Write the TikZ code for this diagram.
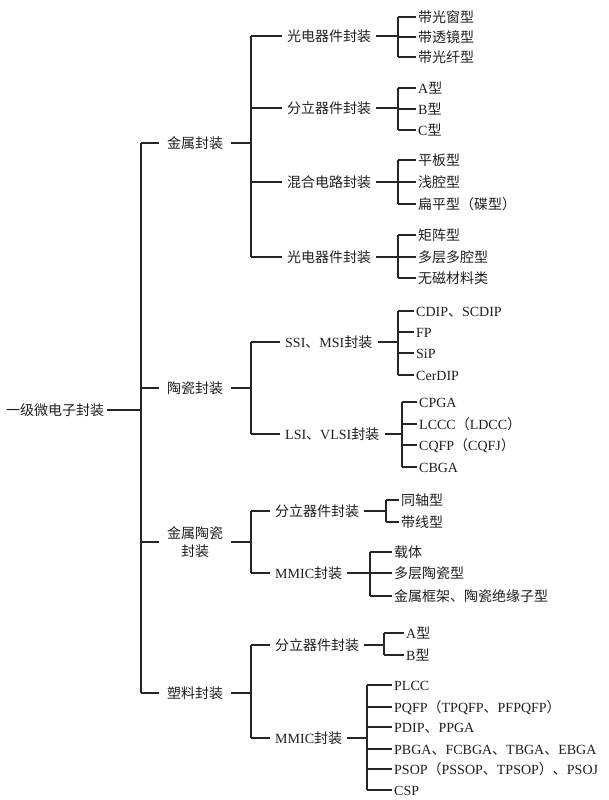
\documentclass[tikz,border=0pt]{standalone}
\usepackage{fontspec}
\setmainfont{Liberation Serif}
\newfontfamily\cjk{Noto Sans CJK SC}
\newcommand\zh[1]{{\cjk #1}}
% parent, junction coordinate, first child, last child, all children
\newcommand\branch[5]{%
  \draw[ln] (#1.east) -- (#2 |- #1.east);
  \draw[ln] (#2 |- #3.west) -- (#2 |- #4.west);
  \foreach \c in {#5} {\draw[ln] (#2 |- \c.west) -- (\c.west);}
}
\begin{document}
\begin{tikzpicture}[x=1pt,y=-1pt,
  every node/.style={font=\fontsize{14}{18}\selectfont, text=black!88, inner ysep=0pt},
  t/.style={anchor=west, text height=12pt, text depth=1.5pt},
  lf/.style={t, inner xsep=2pt},
  ltwo/.style={t, inner xsep=5pt},
  lone/.style={t, inner xsep=8pt},
  rt/.style={t, inner xsep=3pt},
  ln/.style={draw=black!85, line width=1.1pt}]
\useasboundingbox (0,0) rectangle (608,800);

% junction x positions
\coordinate (j0) at (141,0);
\coordinate (j1) at (251,0);
\coordinate (jA1) at (398,0);
\coordinate (jA2) at (398,0);
\coordinate (jA3) at (398,0);
\coordinate (jA4) at (398,0);
\coordinate (jB1) at (398,0);
\coordinate (jB2) at (402,0);
\coordinate (jC1) at (386,0);
\coordinate (jC2) at (370,0);
\coordinate (jD1) at (384,0);
\coordinate (jD2) at (367,0);

% root
\node[rt] (R) at (3,410) {\zh{一级微电子封装}};

% level 1
\node[lone] (A) at (159,143) {\zh{金属封装}};
\node[lone] (B) at (159,388) {\zh{陶瓷封装}};
\node[inner xsep=8pt, align=center, anchor=center] (C) at (195,542) {\zh{金属陶瓷}\\\zh{封装}};
\node[lone] (D) at (159,693) {\zh{塑料封装}};

% level 2
\node[ltwo] (A1) at (282,36) {\zh{光电器件封装}};
\node[ltwo] (A2) at (282,108) {\zh{分立器件封装}};
\node[ltwo] (A3) at (282,182) {\zh{混合电路封装}};
\node[ltwo] (A4) at (282,257) {\zh{光电器件封装}};
\node[ltwo] (B1) at (280,342) {SSI\zh{、}MSI\zh{封装}};
\node[ltwo] (B2) at (280,434) {LSI\zh{、}VLSI\zh{封装}};
\node[ltwo] (C1) at (270,511) {\zh{分立器件封装}};
\node[ltwo] (C2) at (270,573) {MMIC\zh{封装}};
\node[ltwo] (D1) at (270,645) {\zh{分立器件封装}};
\node[ltwo] (D2) at (270,738) {MMIC\zh{封装}};

% leaves
\node[lf] (A1a) at (416,17) {\zh{带光窗型}};
\node[lf] (A1b) at (416,37) {\zh{带透镜型}};
\node[lf] (A1c) at (416,57) {\zh{带光纤型}};
\node[lf] (A2a) at (416,88) {A\zh{型}};
\node[lf] (A2b) at (416,109) {B\zh{型}};
\node[lf] (A2c) at (416,130) {C\zh{型}};
\node[lf] (A3a) at (416,160) {\zh{平板型}};
\node[lf] (A3b) at (416,182) {\zh{浅腔型}};
\node[lf] (A3c) at (416,204) {\zh{扁平型（碟型）}};
\node[lf] (A4a) at (416,235) {\zh{矩阵型}};
\node[lf] (A4b) at (416,257) {\zh{多层多腔型}};
\node[lf] (A4c) at (416,278) {\zh{无磁材料类}};

\node[lf] (B1a) at (414,311) {CDIP\zh{、}SCDIP};
\node[lf] (B1b) at (414,332) {FP};
\node[lf] (B1c) at (414,353) {SiP};
\node[lf] (B1d) at (414,375) {CerDIP};
\node[lf] (B2a) at (417,402) {CPGA};
\node[lf] (B2b) at (417,424) {LCCC\zh{（}LDCC\zh{）}};
\node[lf] (B2c) at (417,445) {CQFP\zh{（}CQFJ\zh{）}};
\node[lf] (B2d) at (417,467) {CBGA};

\node[lf] (C1a) at (399,500) {\zh{同轴型}};
\node[lf] (C1b) at (399,522) {\zh{带线型}};
\node[lf] (C2a) at (392,552) {\zh{载体}};
\node[lf] (C2b) at (392,573) {\zh{多层陶瓷型}};
\node[lf] (C2c) at (392,596) {\zh{金属框架、陶瓷绝缘子型}};

\node[lf] (D1a) at (404,633) {A\zh{型}};
\node[lf] (D1b) at (404,655) {B\zh{型}};
\node[lf] (D2a) at (392,685) {PLCC};
\node[lf] (D2b) at (392,707) {PQFP\zh{（}TPQFP\zh{、}PFPQFP\zh{）}};
\node[lf] (D2c) at (392,727) {PDIP\zh{、}PPGA};
\node[lf] (D2d) at (392,749) {PBGA\zh{、}FCBGA\zh{、}TBGA\zh{、}EBGA};
\node[lf] (D2e) at (392,769) {PSOP\zh{（}PSSOP\zh{、}TPSOP\zh{）、}PSOJ};
\node[lf] (D2f) at (392,790) {CSP};

% connectors
\branch{R}{j0}{A}{D}{A,B,C,D}
\branch{A}{j1}{A1}{A4}{A1,A2,A3,A4}
\branch{B}{j1}{B1}{B2}{B1,B2}
\branch{C}{j1}{C1}{C2}{C1,C2}
\branch{D}{j1}{D1}{D2}{D1,D2}
\branch{A1}{jA1}{A1a}{A1c}{A1a,A1b,A1c}
\branch{A2}{jA2}{A2a}{A2c}{A2a,A2b,A2c}
\branch{A3}{jA3}{A3a}{A3c}{A3a,A3b,A3c}
\branch{A4}{jA4}{A4a}{A4c}{A4a,A4b,A4c}
\branch{B1}{jB1}{B1a}{B1d}{B1a,B1b,B1c,B1d}
\branch{B2}{jB2}{B2a}{B2d}{B2a,B2b,B2c,B2d}
\branch{C1}{jC1}{C1a}{C1b}{C1a,C1b}
\branch{C2}{jC2}{C2a}{C2c}{C2a,C2b,C2c}
\branch{D1}{jD1}{D1a}{D1b}{D1a,D1b}
\branch{D2}{jD2}{D2a}{D2f}{D2a,D2b,D2c,D2d,D2e,D2f}
\end{tikzpicture}
\end{document}
